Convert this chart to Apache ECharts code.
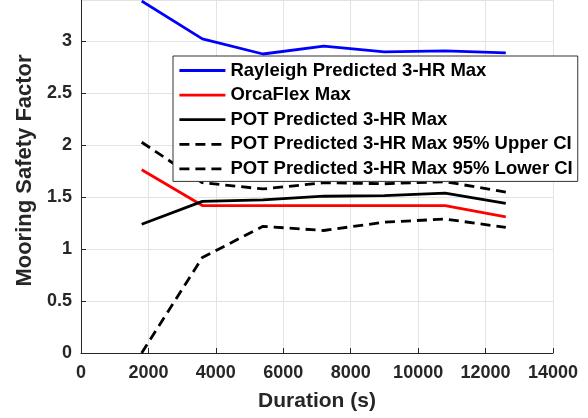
<!DOCTYPE html>
<html>
<head>
<meta charset="utf-8">
<script src="https://cdn.jsdelivr.net/npm/echarts@6/dist/echarts.min.js"></script>
<style>
html,body{margin:0;padding:0;background:#fff;}
#c{width:588px;height:418px;}
</style>
</head>
<body>
<div id="c"></div>
<script>
const durations = [1800, 3600, 5400, 7200, 9000, 10800, 12600];
const rayleigh = [3.39, 3.025, 2.88, 2.955, 2.90, 2.91, 2.89];
const orcaflex = [1.765, 1.42, 1.42, 1.42, 1.42, 1.42, 1.31];
const pot = [1.24, 1.46, 1.475, 1.51, 1.515, 1.54, 1.44];
const upperCI = [2.03, 1.64, 1.58, 1.64, 1.63, 1.65, 1.55];
const lowerCI = [0.0, 0.92, 1.22, 1.18, 1.26, 1.29, 1.21];
const seriesNames = [
  'Rayleigh Predicted 3-HR Max',
  'OrcaFlex Max',
  'POT Predicted 3-HR Max',
  'POT Predicted 3-HR Max 95% Upper CI',
  'POT Predicted 3-HR Max 95% Lower CI'
];
const xTicks = [0, 2000, 4000, 6000, 8000, 10000, 12000, 14000];

const pair = arr => durations.map((d, i) => [d, arr[i]]);
const font = 'Liberation Sans, Arial, Helvetica, sans-serif';
const chart = echarts.init(document.getElementById('c'));
function mk(name, data, color, dashed) {
  return {
    name: name, type: 'line', data: pair(data), symbol: 'none',
    lineStyle: { color: color, width: 2.8, type: dashed ? [10, 6] : 'solid' },
    itemStyle: { color: color }, z: 2
  };
}
chart.setOption({
  animation: false,
  backgroundColor: '#ffffff',
  grid: { left: 81, right: 35, top: 0, bottom: 65, containLabel: false },
  xAxis: {
    type: 'value', min: xTicks[0], max: xTicks[xTicks.length - 1], interval: 2000,
    name: 'Duration (s)', nameLocation: 'middle', nameGap: 38,
    nameTextStyle: { fontFamily: font, fontWeight: 'bold', fontSize: 21, color: '#262626' },
    axisLine: { show: true, lineStyle: { color: '#262626', width: 1 } },
    axisTick: { show: true, inside: true, length: 5, lineStyle: { color: '#262626' } },
    axisLabel: { fontFamily: font, fontWeight: 'bold', fontSize: 18, color: '#262626', margin: 11,
      formatter: v => String(v) },
    splitLine: { show: true, lineStyle: { color: '#e3e3e3', width: 1 } }
  },
  yAxis: {
    type: 'value', min: 0, max: 3.4, interval: 0.5,
    name: 'Mooring Safety Factor', nameLocation: 'middle', nameGap: 45,
    nameTextStyle: { fontFamily: font, fontWeight: 'bold', fontSize: 22, color: '#262626', padding: [0, 0, 0, 12] },
    axisLine: { show: true, lineStyle: { color: '#262626', width: 1 } },
    axisTick: { show: true, inside: true, length: 5, lineStyle: { color: '#262626' } },
    axisLabel: { fontFamily: font, fontWeight: 'bold', fontSize: 18, color: '#262626', margin: 9, showMaxLabel: false,
      formatter: v => String(v) },
    splitLine: { show: true, lineStyle: { color: '#e3e3e3', width: 1 } }
  },
  legend: {
    orient: 'vertical', left: 173, top: 56,
    data: seriesNames,
    backgroundColor: '#ffffff', borderColor: '#333333', borderWidth: 1,
    padding: [5, 5, 3, 5],
    itemWidth: 46, itemHeight: 14, itemGap: 5.6,
    itemStyle: { opacity: 0 },
    lineStyle: { width: 2.8 },
    textStyle: { fontFamily: font, fontWeight: 'bold', fontSize: 18.5, lineHeight: 18, color: '#000' },
    z: 10
  },
  series: [
    mk(seriesNames[0], rayleigh, '#0000ff', false),
    mk(seriesNames[1], orcaflex, '#ff0000', false),
    mk(seriesNames[2], pot, '#000000', false),
    mk(seriesNames[3], upperCI, '#000000', true),
    mk(seriesNames[4], lowerCI, '#000000', true)
  ]
});
</script>
</body>
</html>
